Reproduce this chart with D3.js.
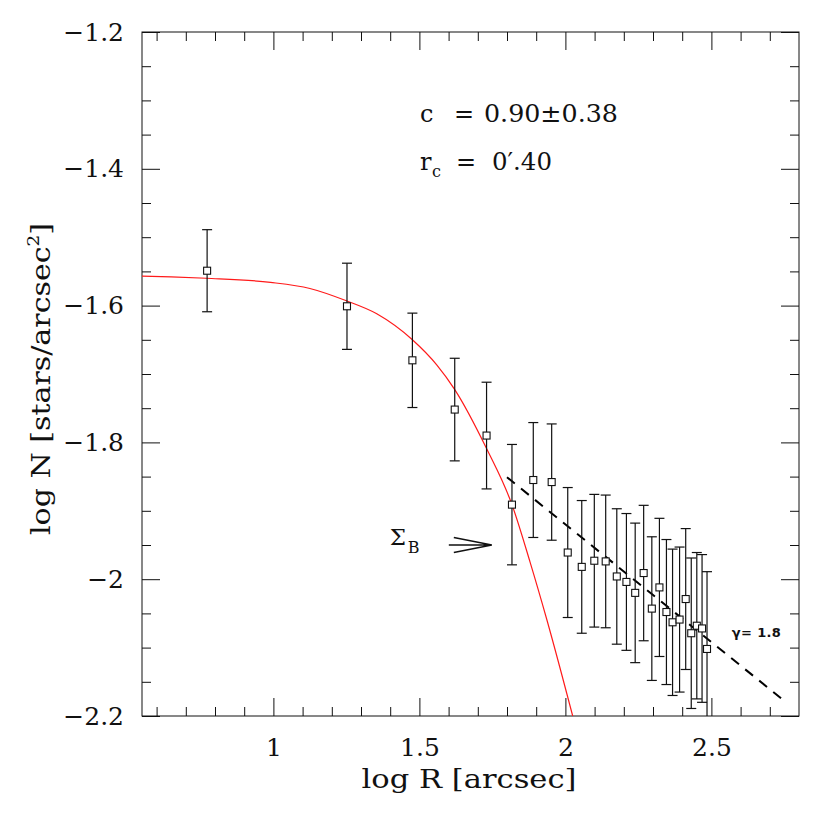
<!DOCTYPE html>
<html>
<head>
<meta charset="utf-8">
<script src="https://cdn.jsdelivr.net/npm/d3@7"></script>
<style>
  html, body { margin: 0; padding: 0; background: #fff; }
  svg text { font-family: "DejaVu Serif", serif; fill: #111; }
</style>
</head>
<body>
<svg id="chart" width="830" height="830"></svg>
<script>
// radial density profile, log R vs log N
const logR = [0.773, 1.252, 1.476, 1.621, 1.730, 1.817, 1.890, 1.953, 2.008, 2.056,
  2.099, 2.138, 2.176, 2.209, 2.239, 2.268, 2.296, 2.322, 2.346, 2.367,
  2.391, 2.412, 2.431, 2.450, 2.468, 2.485];
const logN = [-1.549, -1.601, -1.680, -1.752, -1.790, -1.891, -1.855, -1.858, -1.961, -1.982,
  -1.973, -1.974, -1.996, -2.004, -2.020, -1.991, -2.043, -2.012, -2.048, -2.063,
  -2.059, -2.029, -2.079, -2.068, -2.072, -2.102];
const errN = [0.060, 0.063, 0.069, 0.075, 0.078, 0.088, 0.084, 0.085, 0.095, 0.097,
  0.097, 0.097, 0.099, 0.100, 0.102, 0.099, 0.105, 0.101, 0.106, 0.107,
  0.106, 0.103, 0.110, 0.107, 0.108, 0.113];

// King fit (red)
const fitR = [0.55, 0.65, 0.77, 0.99, 1.125, 1.25, 1.354, 1.476, 1.56, 1.62, 1.73, 1.817, 1.879, 1.937, 2.025];
const fitN = [-1.557, -1.558, -1.560, -1.566, -1.575, -1.593, -1.612, -1.650, -1.687, -1.722, -1.809, -1.891, -1.975, -2.06, -2.2];

// power law slope (dashed)
const slopeR = [1.8, 2.75];
const slopeN = [-1.851, -2.178];

const xTickLabels = [1, 1.5, 2, 2.5];
const yTickLabels = [-1.2, -1.4, -1.6, -1.8, -2, -2.2];

const margin = { top: 32, right: 31, bottom: 114, left: 142 };
const W = 830, H = 830;
const iw = W - margin.left - margin.right;
const ih = H - margin.top - margin.bottom;
const serif = "DejaVu Serif";

const svg = d3.select("#chart");
const g = svg.append("g").attr("transform", `translate(${margin.left},${margin.top})`);

const x = d3.scaleLinear().domain([0.55, 2.8]).range([0, iw]);
const y = d3.scaleLinear().domain([-2.2, -1.2]).range([ih, 0]);

svg.append("defs").append("clipPath").attr("id", "clip")
  .append("rect").attr("width", iw).attr("height", ih);

//* ticks, all inward
const xMinor = d3.range(6, 28).map(d => d / 10).filter(d => Math.abs(d * 2 - Math.round(d * 2)) > 1e-6);
const yMinor = d3.range(-44, -23).map(d => d / 20).filter(d => Math.abs(d * 5 - Math.round(d * 5)) > 1e-6);
const fmtY = d => "\u2212" + d3.format("")(Math.abs(d));

function styleAxis(sel) {
  sel.attr("font-family", serif);
  sel.select(".domain").remove();
  sel.selectAll("line").attr("stroke", "#111").attr("stroke-width", 1);
  sel.selectAll("text").attr("font-size", 25).attr("fill", "#111");
}

g.append("g").attr("transform", `translate(0,${ih})`)
  .call(d3.axisBottom(x).tickValues(xMinor).tickSize(-9).tickFormat("")).call(styleAxis);
g.append("g").attr("transform", `translate(0,${ih})`)
  .call(d3.axisBottom(x).tickValues(xTickLabels).tickSize(-18).tickPadding(22).tickFormat(d3.format(""))).call(styleAxis);
g.append("g")
  .call(d3.axisTop(x).tickValues(xMinor).tickSize(-9).tickFormat("")).call(styleAxis);
g.append("g")
  .call(d3.axisTop(x).tickValues(xTickLabels).tickSize(-18).tickFormat("")).call(styleAxis);

g.append("g")
  .call(d3.axisLeft(y).tickValues(yMinor).tickSize(-9).tickFormat("")).call(styleAxis);
g.append("g")
  .call(d3.axisLeft(y).tickValues(yTickLabels).tickSize(-18).tickPadding(18).tickFormat(fmtY)).call(styleAxis);
g.append("g").attr("transform", `translate(${iw},0)`)
  .call(d3.axisRight(y).tickValues(yMinor).tickSize(-9).tickFormat("")).call(styleAxis);
g.append("g").attr("transform", `translate(${iw},0)`)
  .call(d3.axisRight(y).tickValues(yTickLabels).tickSize(-18).tickFormat("")).call(styleAxis);

g.append("rect").attr("width", iw).attr("height", ih)
  .attr("fill", "none").attr("stroke", "#111").attr("stroke-width", 1);

//* fit curve
const plot = g.append("g").attr("clip-path", "url(#clip)");
const fitData = fitR.map((r, i) => [r, fitN[i]]);
plot.append("path").datum(fitData)
  .attr("fill", "none").attr("stroke", "#ff1a1a").attr("stroke-width", 1.2)
  .attr("d", d3.line().x(d => x(d[0])).y(d => y(d[1])).curve(d3.curveMonotoneX));

//* dashed power law
plot.append("line")
  .attr("x1", x(slopeR[0])).attr("y1", y(slopeN[0]))
  .attr("x2", x(slopeR[1])).attr("y2", y(slopeN[1]))
  .attr("stroke", "#000").attr("stroke-width", 2).attr("stroke-dasharray", "10,8");

//* error bars + squares
const pts = logR.map((r, i) => ({ r, n: logN[i], e: errN[i] }));
const bars = plot.selectAll(".err").data(pts).join("g").attr("class", "err")
  .attr("stroke", "#111").attr("stroke-width", 1.2);
bars.append("line")
  .attr("x1", d => x(d.r)).attr("x2", d => x(d.r))
  .attr("y1", d => y(d.n + d.e)).attr("y2", d => y(d.n - d.e));
bars.append("line")
  .attr("x1", d => x(d.r) - 5).attr("x2", d => x(d.r) + 5)
  .attr("y1", d => y(d.n + d.e)).attr("y2", d => y(d.n + d.e));
bars.append("line")
  .attr("x1", d => x(d.r) - 5).attr("x2", d => x(d.r) + 5)
  .attr("y1", d => y(d.n - d.e)).attr("y2", d => y(d.n - d.e));

plot.selectAll(".pt").data(pts).join("rect").attr("class", "pt")
  .attr("x", d => x(d.r) - 3.5).attr("y", d => y(d.n) - 3.5)
  .attr("width", 7).attr("height", 7)
  .attr("fill", "#fff").attr("stroke", "#111").attr("stroke-width", 1.1);

//* annotations
const ax = x(1.502);
g.append("text").attr("x", ax).attr("y", y(-1.331)).attr("font-size", 24).text("c");
g.append("text").attr("x", ax + 34).attr("y", y(-1.331)).attr("font-size", 24).text("=");
g.append("text").attr("x", ax + 64).attr("y", y(-1.331)).attr("font-size", 24)
  .attr("textLength", 134).attr("lengthAdjust", "spacingAndGlyphs").text("0.90\u00B10.38");

g.append("text").attr("x", ax).attr("y", y(-1.402)).attr("font-size", 24).text("r");
g.append("text").attr("x", ax + 12).attr("y", y(-1.402) + 7).attr("font-size", 16).text("c");
g.append("text").attr("x", ax + 36).attr("y", y(-1.402)).attr("font-size", 24).text("=");
g.append("text").attr("x", ax + 72).attr("y", y(-1.402)).attr("font-size", 24)
  .attr("textLength", 60).attr("lengthAdjust", "spacingAndGlyphs").text("0\u2032.40");

// Sigma_B with arrow
const sx = x(1.748), sy = y(-1.95);
g.append("text").attr("x", sx - 102).attr("y", sy).attr("font-size", 23).text("\u03A3");
g.append("text").attr("x", sx - 84).attr("y", sy + 8).attr("font-size", 16).text("B");
g.append("path")
  .attr("d", `M${sx - 43},${sy} L${sx},${sy} M${sx - 38},${sy - 7.5} L${sx},${sy} L${sx - 38},${sy + 7.5}`)
  .attr("fill", "none").attr("stroke", "#111").attr("stroke-width", 1.3);

g.append("text").attr("x", x(2.57)).attr("y", y(-2.084))
  .attr("font-weight", "bold").attr("font-size", 13)
  .attr("textLength", 49).attr("lengthAdjust", "spacing")
  .style("font-family", "'DejaVu Sans', sans-serif")
  .text("\u03B3= 1.8");

//* axis titles
svg.append("text").attr("x", 469).attr("y", 788).attr("text-anchor", "middle")
  .attr("font-size", 26).attr("textLength", 215).attr("lengthAdjust", "spacingAndGlyphs")
  .text("log R [arcsec]");

const yt = svg.append("text").attr("transform", "translate(50,379) rotate(-90)")
  .attr("text-anchor", "middle").attr("font-size", 26)
  .attr("textLength", 312).attr("lengthAdjust", "spacingAndGlyphs");
yt.append("tspan").text("log N [stars/arcsec");
yt.append("tspan").attr("font-size", 16).attr("dy", -11).text("2");
yt.append("tspan").attr("dy", 11).text("]");
</script>
</body>
</html>
